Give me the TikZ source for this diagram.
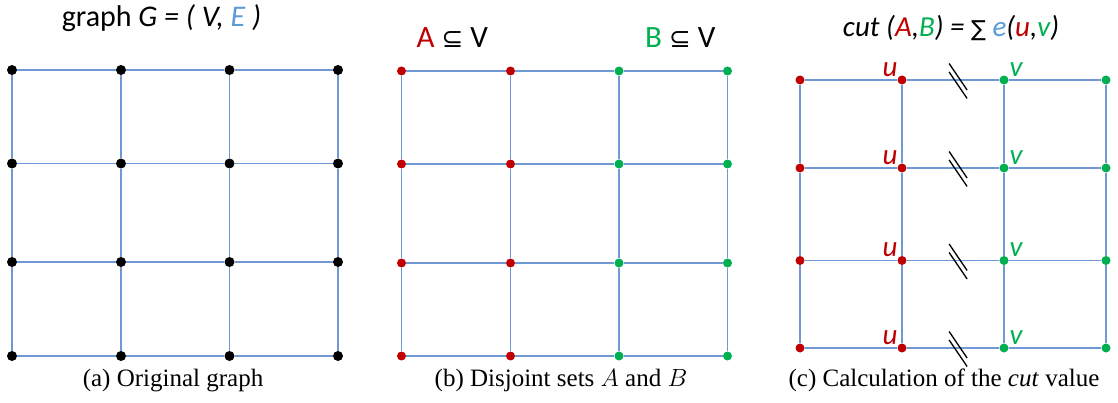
\documentclass[tikz,border=0pt]{standalone}
\usepackage{fontspec}
\setmainfont{Liberation Serif}
\newfontfamily\calfont{Carlito}
\newfontfamily\symfont{DejaVu Sans}
\usepackage{tikz}
\usetikzlibrary{positioning, calc}
\usepackage{xcolor}
\definecolor{edgeblue}{RGB}{112, 152, 212}
\definecolor{textblue}{RGB}{91, 155, 213}
\definecolor{setred}{RGB}{192, 0, 0}
\definecolor{setgreen}{RGB}{0, 176, 80}

\begin{document}
\begin{tikzpicture}[
  x=1pt, y=-1pt,
  vert/.style={circle, fill=#1, inner sep=0pt, minimum size=9pt},
  edge/.style={draw=edgeblue, line width=1.4pt},
  cutmark/.style={draw=black, line width=1.3pt},
  title/.style={font=\calfont\fontsize{30}{33}\selectfont, inner sep=0pt},
  setlbl/.style={font=\calfont\fontsize{31}{34}\selectfont, inner sep=0pt},
  uvlbl/.style={font=\calfont\itshape\fontsize{29}{32}\selectfont, inner sep=0pt},
  capt/.style={font=\fontsize{25}{28}\selectfont, inner sep=0pt}
]
\useasboundingbox (0,0) rectangle (1118,403);

% (a) original graph
\foreach \x [count=\i] in {12, 121, 229.5, 338}
  \foreach \y [count=\j] in {70, 163.5, 262, 356}
    \node[vert=black, minimum size=10pt] (a-\i-\j) at (\x,\y) {};

% (b) disjoint sets
\foreach \x/\c [count=\i] in {401.5/setred, 510.5/setred, 619/setgreen, 727.5/setgreen}
  \foreach \y [count=\j] in {71, 164, 263, 356}
    \node[vert=\c] (b-\i-\j) at (\x,\y) {};

% (c) cut value
\foreach \x/\c [count=\i] in {800/setred, 902/setred, 1004/setgreen, 1106/setgreen}
  \foreach \y [count=\j] in {80, 168, 260.5, 348}
    \node[vert=\c] (c-\i-\j) at (\x,\y) {};

% grid edges
\foreach \p in {a, b, c}
  \foreach \i in {1, 2, 3}
    \foreach \j in {1, ..., 4} {
      \pgfmathtruncatemacro{\k}{\i+1}
      \draw[edge] (\p-\i-\j) -- (\p-\k-\j);
      \draw[edge] (\p-\j-\i) -- (\p-\j-\k);
    }

% cut edges and labels
\foreach \j in {1, ..., 4} {
  \coordinate (cut-\j) at ($(c-2-\j)!0.55!(c-3-\j)$);
  \draw[cutmark] ([shift={(-9,-16.5)}]cut-\j) -- ([shift={(9,10)}]cut-\j);
  \draw[cutmark] ([shift={(-9,-8)}]cut-\j) -- ([shift={(9,18.5)}]cut-\j);
  \node[uvlbl, setred, above left=0pt and 1pt of c-2-\j] (u-\j) {u};
  \node[uvlbl, setgreen, above right=0pt and 2pt of c-3-\j] (v-\j) {v};
}

% titles
\node[title, anchor=base] (titleA) at (161.5,27)
  {graph \textit{G = ( V, \textcolor{textblue}{E} )}};
\node[setlbl, anchor=base west] (setA) at (416.5,48)
  {\textcolor{setred}{A} {\symfont\fontsize{26}{30}\selectfont ⊆} V};
\node[setlbl, anchor=base west] (setB) at (645,48)
  {\textcolor{setgreen}{B} {\symfont\fontsize{26}{30}\selectfont ⊆} V};
\node[title, font=\calfont\fontsize{29}{32}\selectfont, anchor=base] (titleC) at (951,37)
  {\textit{cut (\textcolor{setred}{A},\textcolor{setgreen}{B}) = }{\symfont\fontsize{22}{26}\selectfont ∑}
   \textit{\textcolor{textblue}{e}(\textcolor{setred}{u},\textcolor{setgreen}{v})}};

% captions
\node[capt, anchor=base] (captA) at (173,386) {(a) Original graph};
\node[capt, anchor=base] (captB) at (561,386) {(b) Disjoint sets $A$ and $B$};
\node[capt, anchor=base] (captC) at (944,386) {(c) Calculation of the \textit{cut} value};

\end{tikzpicture}
\end{document}
